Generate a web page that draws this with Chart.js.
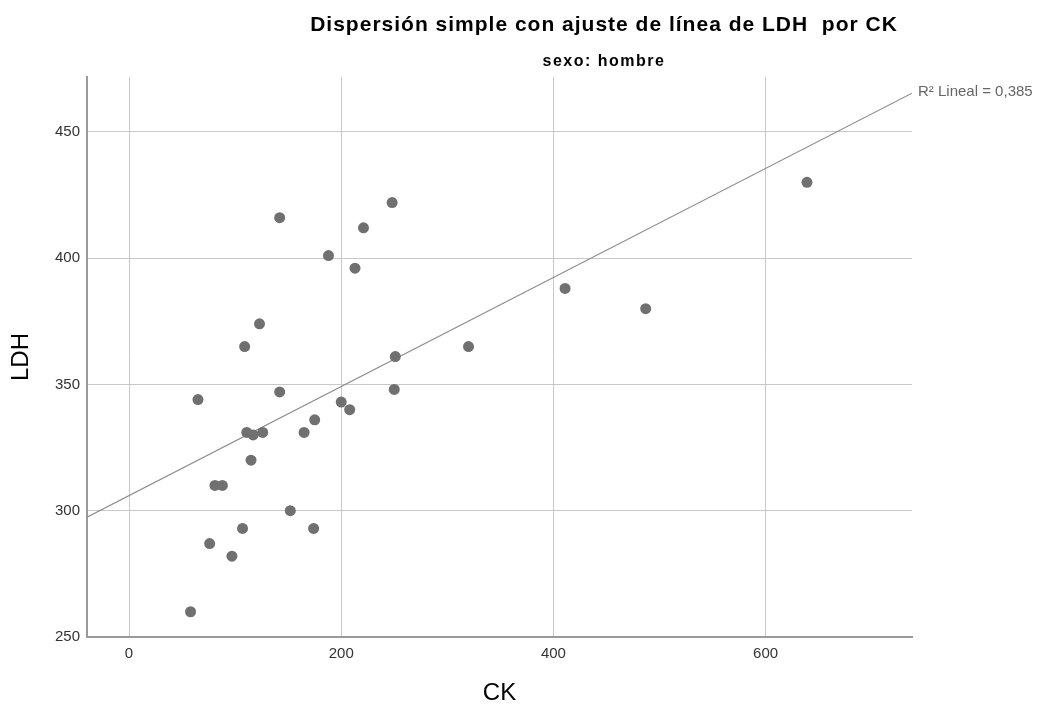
<!DOCTYPE html>
<html>
<head>
<meta charset="utf-8">
<script src="https://cdn.jsdelivr.net/npm/chart.js@4.4.1/dist/chart.umd.min.js"></script>
<style>
  html, body { margin: 0; padding: 0; background: #ffffff; }
  #wrap { width: 1043px; height: 711px; }
</style>
</head>
<body>
<div id="wrap"><canvas id="c" width="1043" height="711"></canvas></div>
<script>
// ---- Data ----
const ckValues  = [58, 76, 97, 107, 174, 152, 81, 88, 115, 111, 117, 126, 165, 175, 200, 208,
                   65, 142, 109, 123, 213, 188, 221, 142, 248, 250, 251, 320, 411, 487, 639];
const ldhValues = [260, 287, 282, 293, 293, 300, 310, 310, 320, 331, 330, 331, 331, 336, 343, 340,
                   344, 347, 365, 374, 396, 401, 412, 416, 422, 348, 361, 365, 388, 380, 430];
const fitLineX  = [-39.6, 738];
const fitLineY  = [297.4, 465.3];
const xTicks    = [0, 200, 400, 600];
const yTicks    = [250, 300, 350, 400, 450];
const titleText    = 'Dispersión simple con ajuste de línea de LDH  por CK';
const subtitleText = 'sexo: hombre';
const fitLabel     = 'R² Lineal = 0,385';
const xTitle = 'CK';
const yTitle = 'LDH';

const points = ckValues.map((v, i) => ({ x: v, y: ldhValues[i] }));
const fitPoints = fitLineX.map((v, i) => ({ x: v, y: fitLineY[i] }));

const FONT = '"Liberation Sans", Arial, sans-serif';

const textPlugin = {
  id: 'texts',
  afterDraw(chart) {
    const ctx = chart.ctx;
    ctx.save();
    ctx.fillStyle = '#000000';
    ctx.textAlign = 'center';
    ctx.textBaseline = 'middle';
    ctx.font = 'bold 21px ' + FONT;
    ctx.letterSpacing = '1px';
    ctx.fillText(titleText, 604, 25);
    ctx.font = 'bold 16px ' + FONT;
    ctx.letterSpacing = '1.5px';
    ctx.fillText(subtitleText, 604, 62);
    ctx.letterSpacing = '0px';
    // fit label near the end of the fit line
    const xs = chart.scales.x, ys = chart.scales.y;
    const px = xs.getPixelForValue(fitLineX[1]);
    const py = ys.getPixelForValue(fitLineY[1]);
    ctx.fillStyle = '#666666';
    ctx.textAlign = 'left';
    ctx.font = '15px ' + FONT;
    ctx.fillText(fitLabel, px + 6, py - 1);
    ctx.restore();
  }
};

new Chart(document.getElementById('c'), {
  type: 'scatter',
  data: {
    datasets: [
      {
        type: 'line',
        data: fitPoints,
        borderColor: '#8c8c8c',
        borderWidth: 1.2,
        pointRadius: 0,
        fill: false,
        order: 2
      },
      {
        data: points,
        backgroundColor: '#707070',
        borderWidth: 0,
        pointRadius: 5.5,
        pointHoverRadius: 5.5,
        order: 1
      }
    ]
  },
  options: {
    responsive: false,
    animation: false,
    events: [],
    layout: { padding: { top: 77, right: 131, left: 0, bottom: 0 } },
    plugins: {
      legend: { display: false },
      tooltip: { enabled: false },
      title: { display: false }
    },
    scales: {
      x: {
        type: 'linear',
        min: -39.6,
        max: 738,
        afterBuildTicks(axis) { axis.ticks = xTicks.map(v => ({ value: v })); },
        afterFit(axis) { axis.height = 74; },
        grid: { color: '#c8c8c8', lineWidth: 1, drawTicks: false },
        border: { color: '#9a9a9a', width: 2 },
        ticks: { color: '#333333', font: { family: FONT, size: 15 }, padding: 8 },
        title: { display: true, text: xTitle, color: '#000000',
                 font: { family: FONT, size: 24 }, padding: { top: 0, bottom: 3.6 } }
      },
      y: {
        type: 'linear',
        min: 250,
        max: 471.7,
        afterBuildTicks(axis) { axis.ticks = yTicks.map(v => ({ value: v })); },
        afterFit(axis) { axis.width = 87; },
        grid: { color: '#c8c8c8', lineWidth: 1, drawTicks: false },
        border: { color: '#9a9a9a', width: 2 },
        ticks: { color: '#333333', font: { family: FONT, size: 15 }, padding: 7 },
        title: { display: true, text: yTitle, color: '#000000',
                 font: { family: FONT, size: 24 }, padding: { top: 7, bottom: 0 } }
      }
    }
  },
  plugins: [textPlugin]
});
</script>
</body>
</html>
